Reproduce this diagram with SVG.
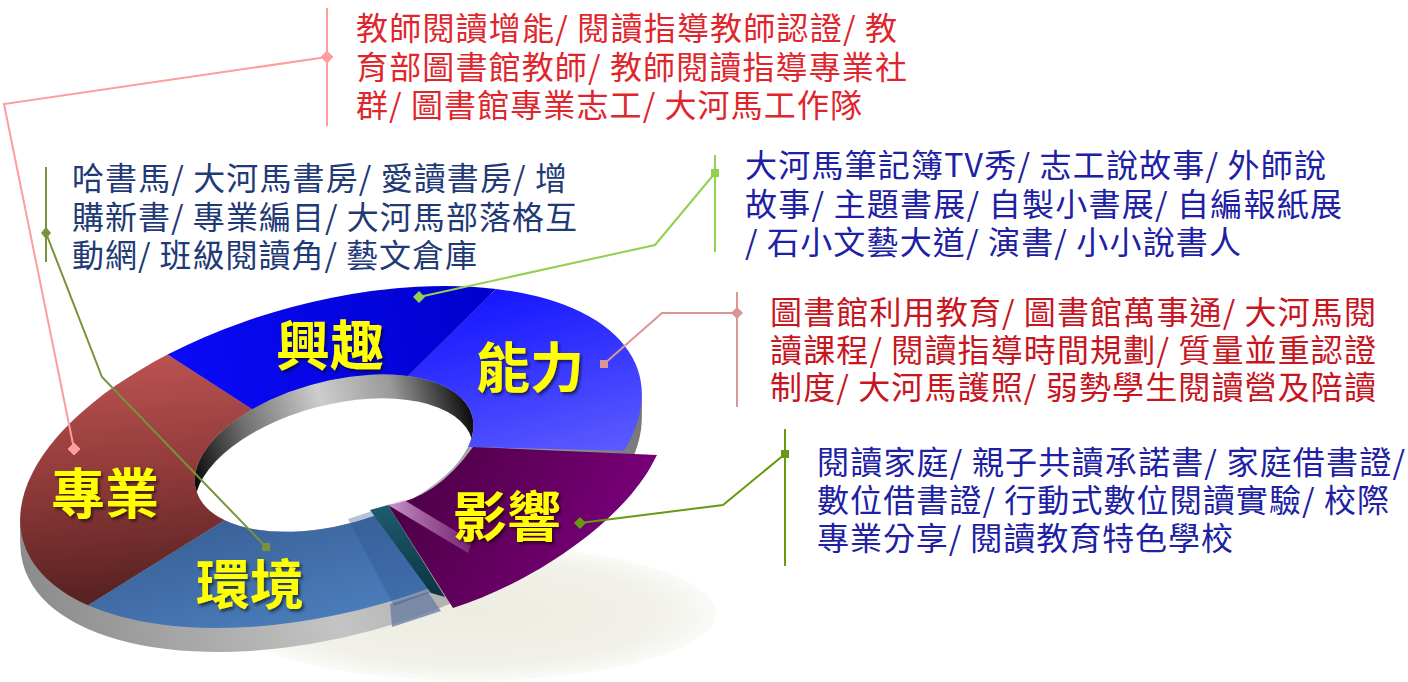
<svg xmlns="http://www.w3.org/2000/svg" width="1408" height="682" viewBox="0 0 1408 682">
<style>
.lbl{font-family:"Noto Sans CJK TC","Noto Sans CJK SC",sans-serif;font-weight:700;font-size:54px;fill:#ffff00;text-anchor:middle}
.txt{font-family:"Noto Sans CJK TC","Noto Sans CJK SC",sans-serif;font-size:32px}
.red1{fill:#e0262d}
.red2{fill:#c8161f}
.navy{fill:#1f3a76}
.blue{fill:#2020a4}
.ln{fill:none;stroke-width:2}
</style>
<defs>
<filter id="ts" x="-20%" y="-20%" width="140%" height="150%">
<feDropShadow dx="2" dy="2.5" stdDeviation="1.5" flood-color="#000" flood-opacity="0.55"/>
</filter>
<radialGradient id="shd" cx="0.5" cy="0.5" r="0.5">
<stop offset="0" stop-color="#ececE2"/>
<stop offset="0.75" stop-color="#f1f1e9"/>
<stop offset="1" stop-color="#fafaf7"/>
</radialGradient>
<linearGradient id="wall" x1="0" y1="0" x2="1" y2="0">
<stop offset="0" stop-color="#8c8c8c"/>
<stop offset="0.45" stop-color="#c4c4c4"/>
<stop offset="0.75" stop-color="#a4a4a4"/>
<stop offset="1" stop-color="#777"/>
</linearGradient>
<linearGradient id="rim" x1="0" y1="0" x2="1" y2="0">
<stop offset="0" stop-color="#080808"/>
<stop offset="0.22" stop-color="#707070"/>
<stop offset="0.5" stop-color="#cdcdcd"/>
<stop offset="0.75" stop-color="#9a9a9a"/>
<stop offset="1" stop-color="#0c0c0c"/>
</linearGradient>
<linearGradient id="gRed" x1="0.6" y1="0" x2="0.4" y2="1">
<stop offset="0" stop-color="#b85150"/>
<stop offset="0.5" stop-color="#8e3a39"/>
<stop offset="1" stop-color="#5a2222"/>
</linearGradient>
<linearGradient id="gBlue1" x1="0" y1="0" x2="1" y2="0">
<stop offset="0" stop-color="#0a0af8"/>
<stop offset="1" stop-color="#0000cc"/>
</linearGradient>
<linearGradient id="gBlue2" x1="0" y1="0" x2="0" y2="1">
<stop offset="0" stop-color="#1616ff"/>
<stop offset="1" stop-color="#5c5cff"/>
</linearGradient>
<linearGradient id="gSteel" x1="0" y1="0" x2="0" y2="1">
<stop offset="0" stop-color="#3a6298"/>
<stop offset="1" stop-color="#4a7cba"/>
</linearGradient>
<linearGradient id="gPurple" x1="0" y1="0" x2="1" y2="0.3">
<stop offset="0" stop-color="#48003f"/>
<stop offset="1" stop-color="#7a007a"/>
</linearGradient>
<linearGradient id="gTeal" x1="0" y1="0" x2="0" y2="1">
<stop offset="0" stop-color="#1f5c70"/>
<stop offset="1" stop-color="#0c3440"/>
</linearGradient>
<linearGradient id="gHl" x1="0" y1="0" x2="1" y2="0">
<stop offset="0" stop-color="#e0b0e0" stop-opacity="0.85"/>
<stop offset="1" stop-color="#b070b0" stop-opacity="0.35"/>
</linearGradient>
<ellipse id="outerE" cx="0" cy="0" rx="319" ry="155"/>
<clipPath id="holeClip"><ellipse cx="4" cy="-3" rx="143" ry="72"/></clipPath>
</defs>

<rect width="1408" height="682" fill="#ffffff"/>

<ellipse id="ground-shadow" cx="470" cy="613" rx="246" ry="68" fill="url(#shd)"/>

<g id="side-wall" fill="url(#wall)">
<use href="#outerE" transform="translate(331,463) rotate(-15)"/>
<use href="#outerE" transform="translate(331,469) rotate(-15)"/>
<use href="#outerE" transform="translate(331,475) rotate(-15)"/>
<use href="#outerE" transform="translate(331,481) rotate(-15)"/>
</g>
<polygon points="390,604 428,592 441,611 392,627" fill="#6c80a2" opacity="0.8"/>

<g id="hole" transform="translate(331,457) rotate(-15)">
<ellipse cx="4" cy="-3" rx="143" ry="72" fill="url(#rim)"/>
<ellipse cx="-2.2" cy="20.2" rx="143" ry="72" fill="#ffffff" clip-path="url(#holeClip)"/>
</g>

<g id="node-zhuanye">
<path transform="translate(331,457) rotate(-15)" fill="url(#gRed)" d="M-273.1,80.3 A319,155 0 0 1 -131.4,-141.2 L-63.7,-66.4 A143,72 0 0 0 -119.1,33.6 Z"/>
<text class="lbl" x="105" y="514" filter="url(#ts)">專業</text>
</g>

<g id="node-xingqu">
<path transform="translate(331,457) rotate(-15)" fill="url(#gBlue1)" d="M-131.4,-141.2 A319,155 0 0 1 202.9,-119.6 L95.5,-58.3 A143,72 0 0 0 -63.7,-66.4 Z"/>
<text class="lbl" x="330" y="366" filter="url(#ts)">興趣</text>
</g>

<g id="node-nengli">
<path transform="translate(331,457) rotate(-15)" fill="url(#gBlue2)" d="M202.9,-119.6 A319,155 0 0 1 284.9,69.9 L135,25.9 A143,72 0 0 0 95.5,-58.3 Z"/>
<text class="lbl" x="530" y="388" filter="url(#ts)">能力</text>
</g>

<g id="node-huanjing">
<path transform="translate(331,457) rotate(-15)" fill="url(#gSteel)" d="M60.9,152.1 A319,155 0 0 1 -273.1,80.3 L-119.1,33.6 A143,72 0 0 0 27.3,68.1 Z"/>
<polygon points="348,519 372,511 432,592 394,606" fill="#2a5290" opacity="0.35"/>
<polygon points="370,510 388,505 445,597 431,593" fill="url(#gTeal)"/>
<text class="lbl" x="250" y="605" filter="url(#ts)">環境</text>
</g>

<g id="node-yingxiang">
<path fill="url(#gPurple)" d="M473,447 L657,455 L650,468 C620,520 540,580 453,608 L388,505 Q436,499 473,447 Z"/>
<polygon points="388,505 404,500 472,541 468,553" fill="url(#gHl)"/>
<text class="lbl" x="507" y="537" filter="url(#ts)">影響</text>
</g>

<g id="connectors">
<g stroke="#ff9c9c" fill="#ff9c9c">
<polyline class="ln" points="74,449 4,104 327,57"/>
<line x1="327" y1="8" x2="327" y2="126" stroke-width="2"/>
<polygon points="74,443 80,449 74,455 68,449"/>
<polygon points="327,51 333,57 327,63 321,57"/>
</g>
<g stroke="#77933c" fill="#77933c">
<polyline class="ln" points="266,547 102,377 46,233"/>
<line x1="46" y1="167" x2="46" y2="262" stroke-width="2"/>
<rect x="262" y="543" width="8" height="8" stroke="none"/>
<polygon points="46,227 51,233 46,239 41,233" stroke="none"/>
</g>
<g stroke="#92d050" fill="#92d050">
<polyline class="ln" points="419,297 655,245 715,173"/>
<line x1="715" y1="155" x2="715" y2="252" stroke-width="2"/>
<polygon points="419,291 425,297 419,303 413,297" stroke="none"/>
<rect x="711" y="169" width="8" height="8" stroke="none"/>
</g>
<g stroke="#d99694" fill="#d99694">
<polyline class="ln" points="604,364 662,313 737,313"/>
<line x1="737" y1="292" x2="737" y2="407" stroke-width="2"/>
<rect x="600" y="360" width="8" height="8" stroke="none"/>
<polygon points="737,307 743,313 737,319 731,313" stroke="none"/>
</g>
<g stroke="#669a14" fill="#669a14">
<polyline class="ln" points="580,523 723,505 785,454"/>
<line x1="785" y1="429" x2="785" y2="566" stroke-width="2"/>
<polygon points="580,517 586,523 580,529 574,523" stroke="none"/>
<rect x="781" y="450" width="8" height="8" stroke="none"/>
</g>
</g>

<g id="text-zhuanye" class="txt red1">
<text x="356" y="40" textLength="541" lengthAdjust="spacing">教師閱讀增能/ 閱讀指導教師認證/ 教</text>
<text x="356" y="79" textLength="551" lengthAdjust="spacing">育部圖書館教師/ 教師閱讀指導專業社</text>
<text x="356" y="117" textLength="506" lengthAdjust="spacing">群/ 圖書館專業志工/ 大河馬工作隊</text>
</g>

<g id="text-huanjing" class="txt navy">
<text x="72" y="190" textLength="495" lengthAdjust="spacing">哈書馬/ 大河馬書房/ 愛讀書房/ 增</text>
<text x="72" y="229" textLength="505" lengthAdjust="spacing">購新書/ 專業編目/ 大河馬部落格互</text>
<text x="72" y="267" textLength="405" lengthAdjust="spacing">動網/ 班級閱讀角/ 藝文倉庫</text>
</g>

<g id="text-xingqu" class="txt blue">
<text x="745" y="177" textLength="581" lengthAdjust="spacing">大河馬筆記簿TV秀/ 志工說故事/ 外師說</text>
<text x="745" y="216" textLength="597" lengthAdjust="spacing">故事/ 主題書展/ 自製小書展/ 自編報紙展</text>
<text x="745" y="254" textLength="496" lengthAdjust="spacing">/ 石小文藝大道/ 演書/ 小小說書人</text>
</g>

<g id="text-nengli" class="txt red2">
<text x="770" y="324" textLength="606" lengthAdjust="spacing">圖書館利用教育/ 圖書館萬事通/ 大河馬閱</text>
<text x="770" y="362" textLength="606" lengthAdjust="spacing">讀課程/ 閱讀指導時間規劃/ 質量並重認證</text>
<text x="770" y="399" textLength="606" lengthAdjust="spacing">制度/ 大河馬護照/ 弱勢學生閱讀營及陪讀</text>
</g>

<g id="text-yingxiang" class="txt blue">
<text x="817" y="474" textLength="588" lengthAdjust="spacing">閱讀家庭/ 親子共讀承諾書/ 家庭借書證/</text>
<text x="817" y="512" textLength="572" lengthAdjust="spacing">數位借書證/ 行動式數位閱讀實驗/ 校際</text>
<text x="817" y="550" textLength="416" lengthAdjust="spacing">專業分享/ 閱讀教育特色學校</text>
</g>
</svg>
